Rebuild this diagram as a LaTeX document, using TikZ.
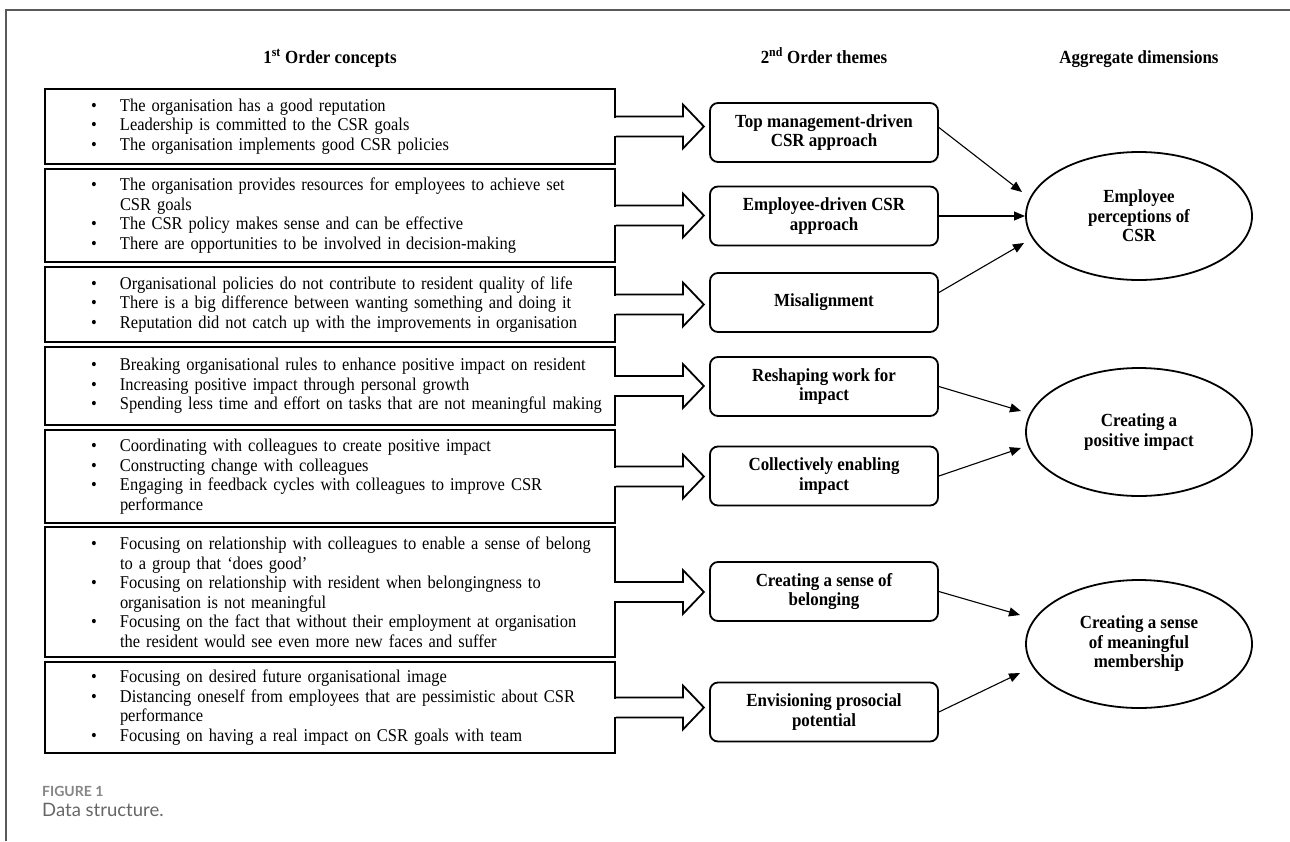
\documentclass[tikz,border=0pt]{standalone}
\usepackage{fontspec}
\setmainfont{Liberation Serif}[FakeStretch=0.915]
\newfontfamily\capfont{Lato}
\usetikzlibrary{shapes.geometric,arrows.meta,calc}
\newcommand\bul[1]{\hspace*{46pt}\makebox[29pt][l]{•}\mbox{#1}}
\newcommand\cnt[1]{\hspace*{75pt}\mbox{#1}}
\newcommand\blockarr[1]{%
  \fill[white] ($(#1.east)+(-2,-9)$) rectangle ($(#1.east)+(2,9)$);
  \draw[bar] ($(#1.east)+(0,-10)$) -- ++(67,0) -- ++(0,-12) -- ++(21,22) -- ++(-21,22) -- ++(0,-12) -- ++(-67,0);}
\begin{document}
\begin{tikzpicture}[x=1pt,y=-1pt,
  conc/.style={draw,line width=1.8pt,text width=570pt,inner xsep=0pt,inner ysep=0pt,align=left,font=\fontsize{18}{19.5}\selectfont},
  theme/.style={draw,line width=1.8pt,rounded corners=8pt,minimum width=228pt,minimum height=59pt,align=center,font=\bfseries\fontsize{18.5}{19.5}\selectfont,inner sep=0pt},
  dim/.style={draw,ellipse,line width=1.8pt,minimum width=226pt,minimum height=128pt,align=center,font=\bfseries\fontsize{18.5}{19.5}\selectfont,inner sep=0pt},
  head/.style={font=\bfseries\fontsize{18.5}{20}\selectfont,inner sep=0pt,anchor=base},
  bar/.style={line width=1.8pt,line join=miter},
  link/.style={line width=1.1pt,-{Triangle[length=11pt,width=9pt]}},
  framel/.style={line width=1.5pt,color=black!65},
]
\useasboundingbox (0,0) rectangle (1290,841);
\fill[white] (0,0) rectangle (1290,841);
\draw[framel] (6,841) -- (6,10) -- (1290,10);

% headers
\node[head] (h1) at (330,63) {1\textsuperscript{st} Order concepts};
\node[head] (h2) at (824,63) {2\textsuperscript{nd} Order themes};
\node[head] (h3) at (1139,63) {Aggregate dimensions};

% first order concept boxes
\node[conc,minimum height=75pt] (b1) at (330,126.5) {%
\bul{The organisation has a good reputation}\\
\bul{Leadership is committed to the CSR goals}\\
\bul{The organisation implements good CSR policies}};
\node[conc,minimum height=93pt] (b2) at (330,215.5) {%
\bul{The organisation provides resources for employees to achieve set}\\
\cnt{CSR goals}\\
\bul{The CSR policy makes sense and can be effective}\\
\bul{There are opportunities to be involved in decision-making}};
\node[conc,minimum height=75pt] (b3) at (330,304.5) {%
\bul{Organisational policies do not contribute to resident quality of life}\\
\bul{There is a big difference between wanting something and doing it}\\
\bul{Reputation did not catch up with the improvements in organisation}};
\node[conc,minimum height=78pt] (b4) at (330,386) {%
\bul{Breaking organisational rules to enhance positive impact on resident}\\
\bul{Increasing positive impact through personal growth}\\
\bul{Spending less time and effort on tasks that are not meaningful making}};
\node[conc,minimum height=93pt] (b5) at (330,476.5) {%
\bul{Coordinating with colleagues to create positive impact}\\
\bul{Constructing change with colleagues}\\
\bul{Engaging in feedback cycles with colleagues to improve CSR}\\
\cnt{performance}};
\node[conc,minimum height=130pt] (b6) at (330,592) {%
\bul{Focusing on relationship with colleagues to enable a sense of belong}\\
\cnt{to a group that ‘does good’}\\
\bul{Focusing on relationship with resident when belongingness to}\\
\cnt{organisation is not meaningful}\\
\bul{Focusing on the fact that without their employment at organisation}\\
\cnt{the resident would see even more new faces and suffer}};
\node[conc,minimum height=91pt] (b7) at (330,707.5) {%
\bul{Focusing on desired future organisational image}\\
\bul{Distancing oneself from employees that are pessimistic about CSR}\\
\cnt{performance}\\
\bul{Focusing on having a real impact on CSR goals with team}};

% block arrows
\blockarr{b1}\blockarr{b2}\blockarr{b3}\blockarr{b4}\blockarr{b5}\blockarr{b6}\blockarr{b7}

% second order themes
\node[theme] (t1) at (824,132.5) {Top management-driven\\CSR approach};
\node[theme] (t2) at (824,216) {Employee-driven CSR\\approach};
\node[theme] (t3) at (824,302.5) {Misalignment};
\node[theme] (t4) at (824,386.5) {Reshaping work for\\impact};
\node[theme] (t5) at (824,476) {Collectively enabling\\impact};
\node[theme] (t6) at (824,591.5) {Creating a sense of\\belonging};
\node[theme] (t7) at (824,712) {Envisioning prosocial\\potential};

% aggregate dimensions
\node[dim] (e1) at (1139,216) {Employee\\perceptions of\\CSR};
\node[dim] (e2) at (1139,432) {Creating a\\positive impact};
\node[dim] (e3) at (1139,644) {Creating a sense\\of meaningful\\membership};

% links
\draw[link] ($(t1.east)+(0,-5)$) -- ($(e1.center)+(-117,-24)$);
\draw[link] (t2.east) -- ($(e1.center)+(-114,0)$);
\draw[link] ($(t3.east)+(0,-10)$) -- ($(e1.center)+(-115,27)$);
\draw[link] (t4.east) -- ($(e2.center)+(-118,-21)$);
\draw[link] (t5.east) -- ($(e2.center)+(-118,16)$);
\draw[link] (t6.east) -- ($(e3.center)+(-119,-29)$);
\draw[link] (t7.east) -- ($(e3.center)+(-119,29)$);

% caption
\node[anchor=base west,inner sep=0pt,font=\capfont\bfseries\fontsize{14}{16}\selectfont,text=black!48] (cap1) at (42,796) {FIGURE 1};
\node[anchor=base west,inner sep=0pt,font=\capfont\fontsize{18.5}{21}\selectfont,text=black!60] (cap2) at (42,816) {Data structure.};
\end{tikzpicture}
\end{document}
